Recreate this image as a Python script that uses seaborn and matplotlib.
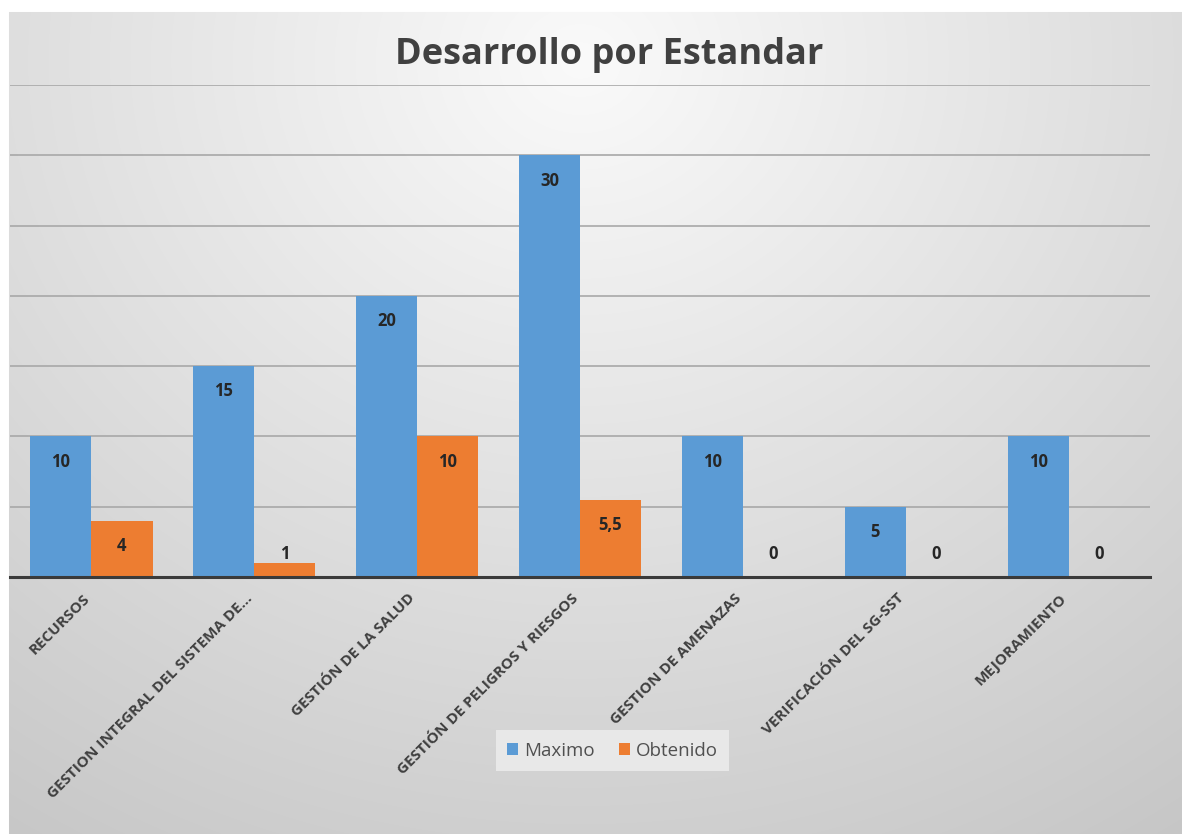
import numpy as np
import pandas as pd
import matplotlib.pyplot as plt
import matplotlib.transforms as mtransforms
import seaborn as sns

# Chart data
categorias = ['RECURSOS', 'GESTION INTEGRAL DEL SISTEMA DE...', 'GESTIÓN DE LA SALUD',
              'GESTIÓN DE PELIGROS Y RIESGOS', 'GESTION DE AMENAZAS',
              'VERIFICACIÓN DEL SG-SST', 'MEJORAMIENTO']
maximo = [10, 15, 20, 30, 10, 5, 10]
obtenido = [4, 1, 10, 5.5, 0, 0, 0]
series = ['Maximo', 'Obtenido']
colores = ['#5B9BD5', '#ED7D31']

df = pd.DataFrame({
    'Estandar': categorias * 2,
    'Serie': [series[0]] * len(categorias) + [series[1]] * len(categorias),
    'Valor': maximo + obtenido,
})

sns.set_style('white')
plt.rcParams['font.family'] = ['Open Sans', 'DejaVu Sans']

fig = plt.figure(figsize=(11.82, 8.34), dpi=100)

# radial gray background like the Excel chart style
bg = fig.add_axes([0, 0, 1, 1], zorder=-10)
h, w = 834, 1182
yy, xx = np.mgrid[0:h, 0:w]
d = np.sqrt(((xx - 580) / 900.0) ** 2 + ((yy - 60) / 800.0) ** 2)
shade = np.clip(250 - 44 * d, 198, 250) / 255.0
img = np.dstack([shade, shade, shade])
img[:12, :, :] = 1.0
img[:, :9, :] = 1.0
bg.imshow(img, aspect='auto', extent=(0, 1, 0, 1), origin='upper')
bg.axis('off')

ax = fig.add_axes([10 / 1182, 1 - 577 / 834, 1140 / 1182, (577 - 85) / 834])
ax.set_facecolor('none')
sns.barplot(data=df, x='Estandar', y='Valor', hue='Serie', palette=colores,
            width=0.75, saturation=1, linewidth=0, ax=ax, zorder=3)

ax.set_ylim(0, 35)
ax.set_xlim(-0.5, len(categorias) - 0.5)
ax.set_yticks(np.arange(0, 36, 5))
ax.set_yticklabels([])
ax.tick_params(axis='y', length=0)
ax.tick_params(axis='x', length=0, pad=8)
ax.yaxis.grid(True, color='#a8a8a8', linewidth=1.2, zorder=0)
ax.set_axisbelow(True)
for s in ['top', 'right', 'left']:
    ax.spines[s].set_visible(False)
ax.spines['bottom'].set_color('#3a3a3a')
ax.spines['bottom'].set_linewidth(2.2)
ax.spines['bottom'].set_zorder(5)
ax.set_xlabel('')
ax.set_ylabel('')

ax.set_xticks(range(len(categorias)))
ax.set_xticklabels(categorias, rotation=45, ha='right', va='top', rotation_mode='anchor',
                   fontsize=11, fontweight='bold', color='#404040')
# nudge the rotated labels a little left, as Excel does
shift = mtransforms.ScaledTranslation(-9 / 100, -3 / 100, fig.dpi_scale_trans)
for lab in ax.get_xticklabels():
    lab.set_transform(lab.get_transform() + shift)

# data labels
for cont in ax.containers:
    for bar in cont:
        v = bar.get_height()
        txt = str(int(v)) if float(v).is_integer() else str(v).replace('.', ',')
        yv = v - 1.8 if v >= 3 else 1.65
        ax.text(bar.get_x() + bar.get_width() / 2, yv, txt, ha='center', va='center',
                fontsize=12, fontweight='bold', color='#262626', zorder=6)

fig.text(0.515, 0.934, 'Desarrollo por Estandar', ha='center', va='center',
         fontsize=26, fontweight='bold', color='#404040')

handles, labels = ax.get_legend_handles_labels()
leg = ax.legend(handles, labels, ncol=2, loc='center', bbox_to_anchor=(0.518, 0.10),
                bbox_transform=fig.transFigure, frameon=True, facecolor='#ececec',
                edgecolor='none', framealpha=0.85, fontsize=13.5, handlelength=0.6,
                handleheight=0.6, handletextpad=0.3, columnspacing=1.3, fancybox=False,
                labelcolor='#505050', borderpad=0.6)
leg.set_zorder(10)

fig.savefig('out.png', dpi=100)
